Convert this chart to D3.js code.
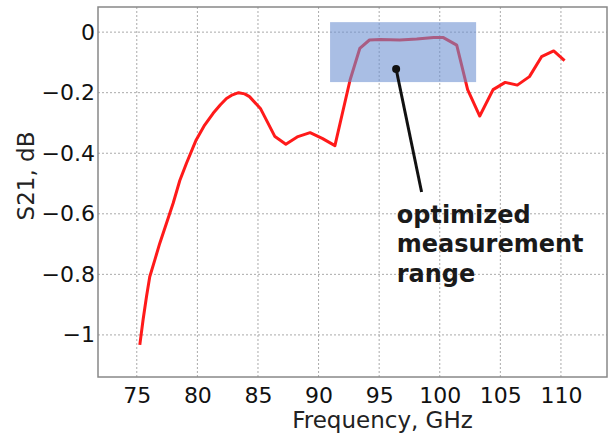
<!DOCTYPE html>
<html>
<head>
<meta charset="utf-8">
<script src="https://cdn.jsdelivr.net/npm/d3@7"></script>
<style>
  body { margin: 0; background: #fff; }
  svg text { font-family: "DejaVu Sans", Verdana, sans-serif; }
</style>
</head>
<body>
<div id="chart"></div>
<script>
// S21 measured vs frequency
const freq = [75.25, 75.52, 75.8, 76.07, 76.49, 76.9, 77.45, 78.0, 78.55, 79.1, 79.9, 80.6, 81.3, 81.9, 82.4, 82.9, 83.4, 83.9, 84.3, 85.2, 86.4, 87.3, 88.3, 89.3, 90.3, 91.35,
              92.6, 93.4, 94.2, 95.1, 96.7, 98.1, 99.5, 100.3, 101.4, 102.3, 103.3, 104.4, 105.4, 106.4, 107.4, 108.4, 109.4, 110.3];
const s21 = [-1.033, -0.95, -0.874, -0.808, -0.752, -0.697, -0.631, -0.565, -0.49, -0.433, -0.356, -0.307, -0.268, -0.24, -0.219, -0.207, -0.20, -0.204, -0.213, -0.252, -0.345, -0.37, -0.345, -0.332, -0.351, -0.375,
             -0.158, -0.054, -0.026, -0.024, -0.026, -0.023, -0.018, -0.018, -0.043, -0.19, -0.277, -0.19, -0.166, -0.175, -0.147, -0.081, -0.062, -0.094];
const xTicks = [75, 80, 85, 90, 95, 100, 105, 110];
const yTicks = [0, -0.2, -0.4, -0.6, -0.8, -1];
// highlighted band: [f0, f1], [s21 top, s21 bottom]
const bandX = [90.95, 103.0];
const bandY = [0.033, -0.165];
// arrow from dot to text
const arrowFrom = [96.4, -0.122];
const arrowTo = [98.5, -0.528];
const noteLines = ['optimized', 'measurement', 'range'];
const noteAt = [96.45, -0.63];

const width = 615, height = 440;
const margin = { top: 7, right: 8, bottom: 63, left: 98 };

const svg = d3.select('#chart').append('svg')
  .attr('width', width)
  .attr('height', height);

const x = d3.scaleLinear().domain([71.8, 113.8]).range([margin.left, width - margin.right]);
const y = d3.scaleLinear().domain([-1.139, 0.083]).range([height - margin.bottom, margin.top]);

// dotted grid
const grid = svg.append('g').attr('stroke', '#aaa').attr('stroke-width', 1).attr('stroke-dasharray', '2,2');
grid.selectAll('.vx').data(xTicks).join('line')
  .attr('x1', d => x(d)).attr('x2', d => x(d))
  .attr('y1', y.range()[0]).attr('y2', y.range()[1]);
grid.selectAll('.hy').data(yTicks).join('line')
  .attr('x1', x.range()[0]).attr('x2', x.range()[1])
  .attr('y1', d => y(d)).attr('y2', d => y(d));

// axes
const xAxis = svg.append('g')
  .attr('transform', `translate(0,${y.range()[0]})`)
  .call(d3.axisBottom(x).tickValues(xTicks).tickSize(0).tickPadding(10));
const yAxis = svg.append('g')
  .attr('transform', `translate(${x.range()[0]},0)`)
  .call(d3.axisLeft(y).tickValues(yTicks).tickSize(0).tickPadding(3).tickFormat(d3.format('')));
[xAxis, yAxis].forEach(a => {
  a.select('.domain').remove();
  a.selectAll('text').attr('font-size', 22).attr('fill', '#111');
});
xAxis.selectAll('text').attr('dy', '0.71em');

// line
const line = d3.line().x((d, i) => x(freq[i])).y(d => y(d));
svg.append('path')
  .datum(s21)
  .attr('fill', 'none')
  .attr('stroke', '#ff1a1a')
  .attr('stroke-width', 3)
  .attr('stroke-linejoin', 'round')
  .attr('d', line);

// band over the line
svg.append('rect')
  .attr('x', x(bandX[0]))
  .attr('y', y(bandY[0]))
  .attr('width', x(bandX[1]) - x(bandX[0]))
  .attr('height', y(bandY[1]) - y(bandY[0]))
  .attr('fill', '#6a8fd0')
  .attr('opacity', 0.58);

// frame
svg.append('rect')
  .attr('x', x.range()[0]).attr('y', y.range()[1])
  .attr('width', x.range()[1] - x.range()[0])
  .attr('height', y.range()[0] - y.range()[1])
  .attr('fill', 'none').attr('stroke', '#888').attr('stroke-width', 1.5);

// arrow + note
svg.append('line')
  .attr('x1', x(arrowFrom[0])).attr('y1', y(arrowFrom[1]))
  .attr('x2', x(arrowTo[0])).attr('y2', y(arrowTo[1]))
  .attr('stroke', '#111').attr('stroke-width', 3);
svg.append('circle')
  .attr('cx', x(arrowFrom[0])).attr('cy', y(arrowFrom[1]))
  .attr('r', 4).attr('fill', '#111');
svg.append('g').selectAll('text').data(noteLines).join('text')
  .attr('x', x(noteAt[0]))
  .attr('y', (d, i) => y(noteAt[1]) + i * 29.5)
  .attr('font-size', 24).attr('font-weight', 'bold').attr('fill', '#1a1a1a')
  .text(d => d);

// axis titles
svg.append('text')
  .attr('x', (x.range()[0] + x.range()[1]) / 2 + 30)
  .attr('y', 428)
  .attr('text-anchor', 'middle')
  .attr('font-size', 23).attr('fill', '#222')
  .text('Frequency, GHz');
svg.append('text')
  .attr('transform', 'translate(34,176) rotate(-90)')
  .attr('text-anchor', 'middle')
  .attr('font-size', 23).attr('fill', '#222')
  .text('S21, dB');
</script>
</body>
</html>
